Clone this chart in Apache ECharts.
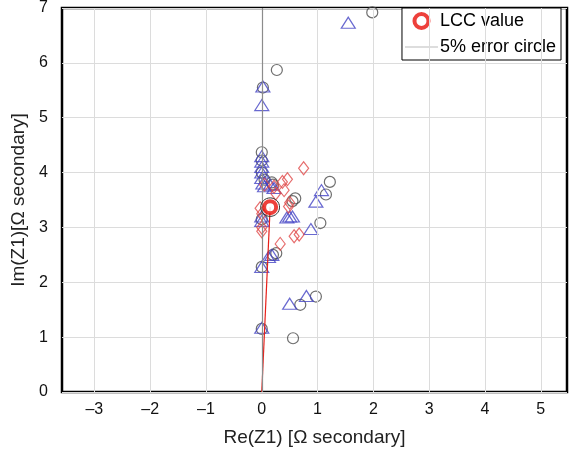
<!DOCTYPE html>
<html>
<head>
<meta charset="utf-8">
<script src="https://cdn.jsdelivr.net/npm/echarts@6/dist/echarts.min.js"></script>
<style>
  html, body { margin: 0; padding: 0; background: #fff; }
  #chart { width: 576px; height: 453px; }
</style>
</head>
<body>
<div id="chart"></div>
<script>
// Measured positive-sequence impedance Z1 per record, [Re, Im] in ohm secondary
const circlePoints = [
  [1.98, 6.92], [0.27, 5.87], [0.02, 5.55], [0.0, 4.37], [0.0, 4.22], [0.0, 4.0],
  [0.05, 3.87], [0.18, 3.82], [0.2, 3.78], [0.55, 3.48], [0.6, 3.53], [1.22, 3.83],
  [1.15, 3.6], [1.05, 3.08], [0.0, 3.15], [0.26, 2.53], [0.2, 2.5], [0.0, 2.28],
  [0.0, 1.15], [0.97, 1.74], [0.69, 1.59], [0.56, 0.98]
];
const trianglePoints = [
  [1.55, 6.73], [0.02, 5.57], [0.0, 5.23], [0.0, 4.3], [0.0, 4.2], [0.0, 4.1],
  [0.0, 4.0], [0.0, 3.9], [0.02, 3.8], [0.05, 3.75], [0.15, 3.78], [0.22, 3.72],
  [0.45, 3.18], [0.5, 3.2], [0.55, 3.2], [1.07, 3.68], [0.97, 3.47], [0.88, 2.97],
  [0.0, 3.12], [0.0, 3.2], [0.12, 2.46], [0.18, 2.5], [0.0, 2.28], [0.0, 1.17],
  [0.5, 1.61], [0.8, 1.75]
];
const diamondPoints = [
  [0.75, 4.08], [0.46, 3.88], [0.37, 3.83], [0.4, 3.68], [0.25, 3.62], [0.05, 3.78],
  [0.5, 3.45], [0.48, 3.38], [-0.03, 3.35], [0.0, 3.25], [0.0, 3.0], [0.0, 2.93],
  [0.67, 2.87], [0.58, 2.84], [0.33, 2.7], [0.22, 3.74]
];

// Line-constant calculated impedance and its 5 % tolerance
const lccValue = [0.15, 3.37];
const errorFraction = 0.05;

const xTicks = [-3, -2, -1, 0, 1, 2, 3, 4, 5];
const xRange = [-3.58, 5.47];
const yRange = [0, 7];

const fmt = v => (v < 0 ? '\u2013' + Math.abs(v) : String(v));
const lccRadius = errorFraction * Math.hypot(lccValue[0], lccValue[1]);

const chart = echarts.init(document.getElementById('chart'), null, { renderer: 'canvas' });

const markerBase = { type: 'scatter', z: 3, silent: true };

chart.setOption({
  animation: false,
  backgroundColor: '#fff',
  textStyle: { fontFamily: 'Liberation Sans, Arial, sans-serif' },
  grid: {
    left: 62, right: 9, top: 8, bottom: 61,
    show: true, borderColor: '#000', borderWidth: 2.5, backgroundColor: 'transparent'
  },
  legend: {
    right: 15, top: 8,
    orient: 'vertical',
    backgroundColor: '#fff',
    borderColor: '#000', borderWidth: 1, borderRadius: 0,
    padding: [4, 5, 4, 3],
    itemGap: 8, itemWidth: 33, itemHeight: 14,
    textStyle: { fontSize: 18, color: '#000', padding: [0, 0, 0, -3] },
    data: [
      {
        name: 'LCC value', icon: 'circle',
        itemStyle: { color: '#fff', borderColor: '#e8100a', borderWidth: 4 }
      },
      {
        name: '5% error circle', icon: 'path://M0,0 H60 V1 H0 Z',
        itemStyle: { color: '#777', borderWidth: 0 }
      }
    ]
  },
  xAxis: {
    type: 'value', min: xRange[0], max: xRange[1],
    name: 'Re(Z1) [\u03a9 secondary]', nameLocation: 'middle', nameGap: 36,
    nameTextStyle: { fontSize: 19, color: '#222' },
    axisLine: { show: false }, axisTick: { show: false },
    splitLine: { show: false },
    axisLabel: {
      fontSize: 16, color: '#111', margin: 10,
      customValues: xTicks,
      formatter: v => fmt(v)
    }
  },
  yAxis: {
    type: 'value', min: yRange[0], max: yRange[1], interval: 1,
    name: 'Im(Z1)[\u03a9 secondary]', nameLocation: 'middle', nameGap: 28,
    nameTextStyle: { fontSize: 19, color: '#222' },
    axisLine: { show: false }, axisTick: { show: false },
    splitLine: { show: true, lineStyle: { color: '#dcdcdc', width: 1 } },
    axisLabel: { fontSize: 16, color: '#111', margin: 14 }
  },
  series: [
    {
      // vertical grid lines at the labelled x ticks, plus the Re = 0 reference
      type: 'line', data: [], silent: true, z: 1,
      markLine: {
        silent: true, symbol: 'none', label: { show: false }, animation: false,
        data: xTicks.filter(v => v !== 0).map(v => ({
          xAxis: v, lineStyle: { color: '#dcdcdc', width: 1, type: 'solid' }
        })).concat([{ xAxis: 0, lineStyle: { color: '#8c8c8c', width: 1.2, type: 'solid' } }])
      }
    },
    Object.assign({}, markerBase, {
      name: 'circles', data: circlePoints, symbol: 'circle', symbolSize: 11,
      itemStyle: { color: 'transparent', borderColor: '#4a4a4a', borderWidth: 1.2 }
    }),
    Object.assign({}, markerBase, {
      name: 'triangles', data: trianglePoints, symbol: 'triangle', symbolSize: [14, 11],
      itemStyle: { color: 'transparent', borderColor: '#4444c4', borderWidth: 1.2 }
    }),
    Object.assign({}, markerBase, {
      name: 'diamonds', data: diamondPoints, symbol: 'diamond', symbolSize: [10, 13],
      itemStyle: { color: 'transparent', borderColor: '#e04848', borderWidth: 1.2 }
    }),
    {
      // impedance vector from the origin to the calculated value
      type: 'line', name: 'lcc vector', silent: true, z: 4,
      data: [[0, 0], lccValue], symbol: 'none',
      lineStyle: { color: '#e8201a', width: 1.2 }
    },
    {
      type: 'custom', name: '5% error circle', silent: true, z: 5,
      data: [lccValue],
      itemStyle: { color: '#777' },
      renderItem: (params, api) => {
        const c = api.coord([api.value(0), api.value(1)]);
        const s = api.size([lccRadius, lccRadius]);
        return {
          type: 'ellipse',
          shape: { cx: c[0], cy: c[1], rx: s[0], ry: s[1] },
          style: { fill: 'none', stroke: '#333', lineWidth: 1 }
        };
      }
    },
    {
      type: 'scatter', name: 'LCC value', silent: true, z: 6,
      data: [lccValue], symbol: 'circle', symbolSize: 12,
      itemStyle: { color: '#fff', borderColor: '#e8100a', borderWidth: 4 }
    }
  ]
});
</script>
</body>
</html>
